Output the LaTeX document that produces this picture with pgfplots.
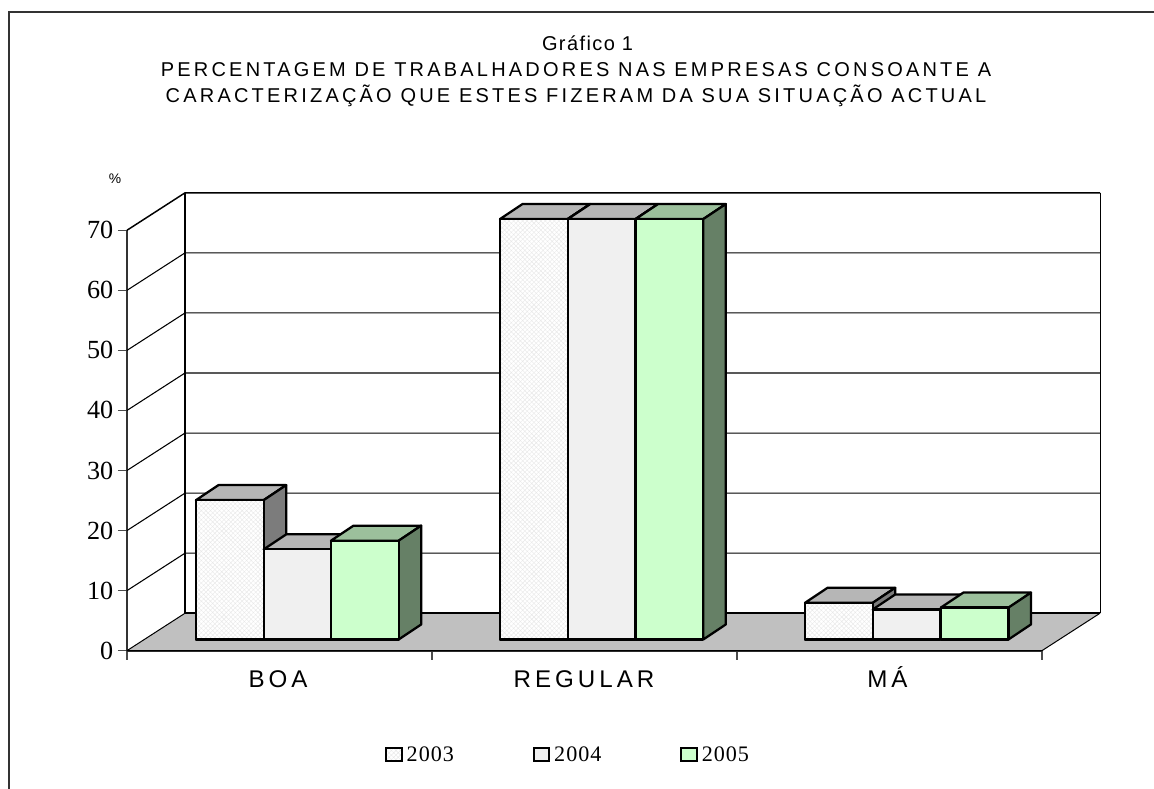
\documentclass[border=0pt]{standalone}
\usepackage{fontspec}
\setmainfont{Liberation Serif}
\newfontfamily\titlefont[LetterSpace=16]{Liberation Sans}
\newfontfamily\titlefonta[LetterSpace=7]{Liberation Sans}
\newfontfamily\catfont[LetterSpace=16.5]{Liberation Sans}
\newfontfamily\plainsans{Liberation Sans}
\newfontfamily\legfont[LetterSpace=4.5]{Liberation Serif}
\usepackage{pgfplots}
\pgfplotsset{compat=1.18}
\usetikzlibrary{patterns.meta}
\definecolor{floorc}{HTML}{C0C0C0}
\definecolor{top1}{HTML}{B6B6B6}
\definecolor{side1}{HTML}{7C7C7C}
\definecolor{front2}{HTML}{F0F0F0}
\definecolor{front3}{HTML}{CCFFCC}
\definecolor{top3}{HTML}{9CC09C}
\definecolor{side3}{HTML}{668066}
\tikzset{
  s2003/.style={preaction={fill=white},pattern={Hatch[angle=45,distance=2.4pt,line width=0.3pt]},pattern color=black!9},
  s2004/.style={fill=front2},
  s2005/.style={fill=front3},
}
% x0 (left edge, px), value, front style, top colour, side colour
\newcommand\cube[5]{%
  \pgfmathsetmacro\xa{#1}%
  \pgfmathsetmacro\xb{#1+67.7}%
  \pgfmathsetmacro\xc{#1+22.5}%
  \pgfmathsetmacro\xd{#1+67.7+22.5}%
  \pgfmathsetmacro\yb{1.865}%
  \pgfmathsetmacro\yt{1.865+#2}%
  \pgfmathsetmacro\ybb{1.865+2.5}%
  \pgfmathsetmacro\ytb{1.865+#2+2.5}%
  \addplot[barline,fill=#4,forget plot] coordinates {(\xa,\yt) (\xc,\ytb) (\xd,\ytb) (\xb,\yt)} -- cycle;
  \addplot[barline,fill=#5,forget plot] coordinates {(\xb,\yt) (\xd,\ytb) (\xd,\ybb) (\xb,\yb)} -- cycle;
  \addplot[barline,#3,forget plot] coordinates {(\xa,\yb) (\xb,\yb) (\xb,\yt) (\xa,\yt)} -- cycle;
}
\tikzset{barline/.style={draw=black,line width=1.7pt,line join=round,no marks}}
\begin{document}
\begin{tikzpicture}
\begin{axis}[
  scale only axis,
  width=686.25pt,
  height=315.3pt,
  xmin=127, xmax=1042,
  ymin=0, ymax=70,
  clip=false,
  axis x line=bottom,
  axis y line=left,
  axis line style={-,draw=black!80,line width=1.3pt},
  xtick={127,432,737,1042},
  xticklabels={},
  extra x ticks={278,584,887.5},
  extra x tick labels={BOA,REGULAR,MÁ},
  extra x tick style={major tick length=0pt,tick label style={font=\fontsize{18.1}{18.1}\catfont,text height=13pt,text depth=0pt,anchor=north,yshift=-11pt}},
  ytick={0,10,20,30,40,50,60,70},
  major tick length=6.75pt,
  tick align=outside,
  tick style={draw=black!70,line width=0.8pt},
  y tick label style={font=\fontsize{19.6}{19.6}\selectfont,xshift=0pt},
  /pgf/number format/assume math mode=true,
  legend style={at={(0.4824,-0.2493)},anchor=center,draw=none,fill=none,legend columns=3,
    font=\fontsize{16.6}{16.6}\legfont,
    /tikz/every even column/.append style={column sep=57pt},
    /tikz/every odd column/.append style={column sep=1pt}},
  legend image code/.code={\draw[#1,line width=1.5pt] (0pt,-4.4pt) rectangle (11.7pt,5.35pt);},
]
% outer frame
\draw[draw=black!80,line width=1.2pt] (axis cs:9,-23.03) -- (axis cs:9,106.35) -- (axis cs:1154,106.35);
% walls
\pgfplotsinvokeforeach{10,20,30,40,50,60}{
  \draw[black,line width=0.8pt] (axis cs:127,#1) -- (axis cs:185,#1+6.23) -- (axis cs:1100,#1+6.23);
}
\draw[black,line width=1.1pt] (axis cs:127,70) -- (axis cs:185,76.23) -- (axis cs:1100,76.23);
\draw[black,line width=0.75pt] (axis cs:1100,6.23) -- (axis cs:1100,76.23);
\draw[black,line width=1.4pt] (axis cs:185,6.23) -- (axis cs:185,76.23);
% floor
\draw[fill=floorc,draw=none] (axis cs:127,0) -- (axis cs:185,6.23) -- (axis cs:1100,6.23) -- (axis cs:1042,0) -- cycle;
\draw[black,line width=1.4pt] (axis cs:185,6.23) -- (axis cs:1100,6.23);
\draw[black,line width=0.75pt] (axis cs:127,0) -- (axis cs:185,6.23);
\draw[black,line width=0.75pt] (axis cs:1100,6.23) -- (axis cs:1042,0) -- (axis cs:127,0);
% legend entries
\addlegendimage{draw=black,s2003}\addlegendentry{2003}
\addlegendimage{draw=black,s2004}\addlegendentry{2004}
\addlegendimage{draw=black,s2005}\addlegendentry{2005}
% BOA
\cube{196}{23.2}{s2003}{top1}{side1}
\cube{263.7}{15.0}{s2004}{top1}{side1}
\cube{331}{16.45}{s2005}{top3}{side3}
% REGULAR
\cube{500}{70}{s2003}{top1}{side1}
\cube{567.8}{70}{s2004}{top1}{side1}
\cube{635.6}{70}{s2005}{top3}{side3}
% MA
\cube{805}{6.1}{s2003}{top1}{side1}
\cube{872.8}{5.0}{s2004}{top1}{side1}
\cube{940.8}{5.3}{s2005}{top3}{side3}
% text
\node[font=\fontsize{15}{15}\titlefonta,anchor=base] at (axis cs:587.5,99.85) {Gráfico 1};
\node[font=\fontsize{15}{15}\titlefont,anchor=base] at (axis cs:576,95.57) {PERCENTAGEM DE TRABALHADORES NAS EMPRESAS CONSOANTE A};
\node[font=\fontsize{15}{15}\titlefont,anchor=base] at (axis cs:576,91.24) {CARACTERIZAÇÃO QUE ESTES FIZERAM DA SUA SITUAÇÃO ACTUAL};
\node[font=\fontsize{10.4}{10.4}\plainsans,anchor=center] at (axis cs:115,78.5) {\%};
\coordinate (sw) at (axis cs:0,-23.03);
\coordinate (ne) at (axis cs:1154,108.34);
\end{axis}
\pgfresetboundingbox
\path[use as bounding box] (sw) rectangle (ne);
\end{tikzpicture}
\end{document}
